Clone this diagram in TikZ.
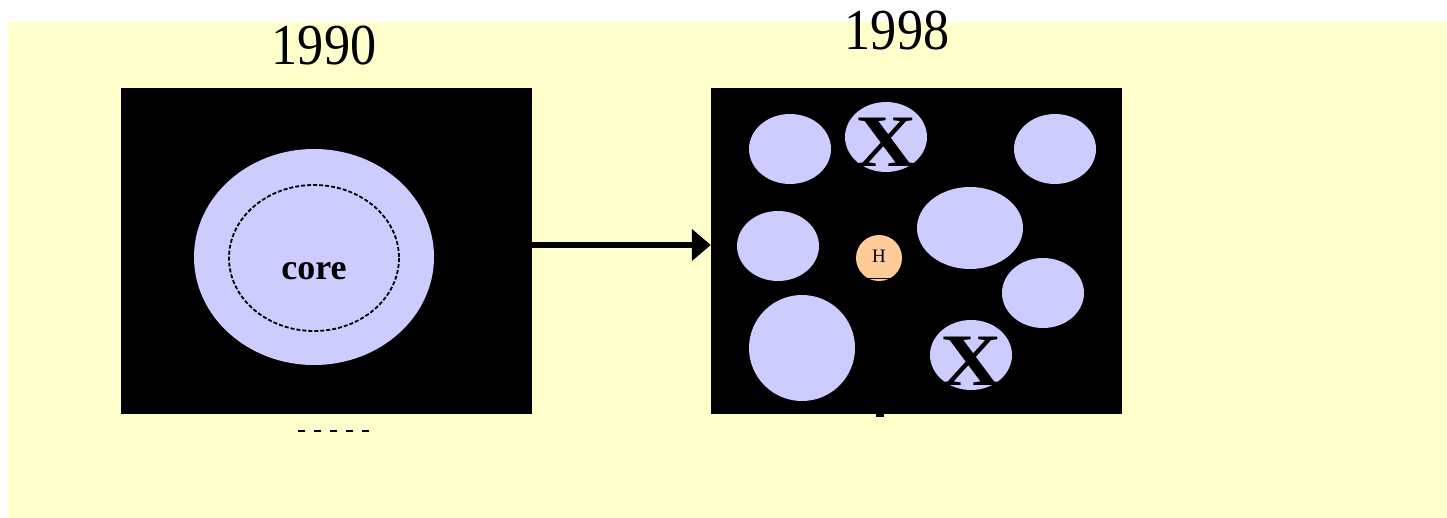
\documentclass[tikz,border=0pt]{standalone}
\usepackage{fontspec}
\setmainfont{Liberation Serif}
\usetikzlibrary{arrows.meta}
\definecolor{paper}{HTML}{FFFFCC}
\definecolor{cell}{HTML}{CCCCFF}
\definecolor{hub}{HTML}{FFCC99}
\tikzset{
  panel/.style={fill=black, draw=none, minimum width=411pt, minimum height=326pt, inner sep=0pt},
  year/.style={anchor=base, inner sep=0pt, font=\fontsize{58}{60}\selectfont},
  cross/.style={anchor=base, inner sep=0pt, font=\fontsize{74}{74}\selectfont\bfseries},
  flow/.style={line width=6pt, -{Triangle[length=19pt,width=31pt]}},
}
\begin{document}
\begin{tikzpicture}[x=1pt, y=-1pt]
  \useasboundingbox (0,0) rectangle (1447,518);
  \fill[white] (0,0) rectangle (1447,518);
  % pale yellow backdrop
  \fill[paper] (8,22) rectangle (1447,518);

  % year labels
  \node[year] (y1990) at (324,65) {\scalebox{0.9}[1]{1990}};
  \node[year] (y1998) at (897,50) {\scalebox{0.9}[1]{1998}};

  % 1990 panel: a single organisation with its core
  \node[panel] (lbox) at (326,251) {};
  \fill[cell] (314,257) ellipse [x radius=120, y radius=108];
  \draw[line width=1.8pt, dash pattern=on 4pt off 2pt] (314,258) ellipse [x radius=85, y radius=73];
  \node[anchor=base, inner sep=0pt, font=\fontsize{36}{36}\selectfont\bfseries] (core) at (314,280) {core};
  \draw[line width=2.6pt, dash pattern=on 7pt off 9pt] (298,431) -- (372,431);

  % 1998 panel: scattered units around a hub
  \node[panel] (rbox) at (916.5,251) {};
  \fill[cell] (790,149) ellipse [x radius=41, y radius=35];
  \fill[cell] (886,137) ellipse [x radius=41, y radius=35];
  \fill[cell] (1055,149) ellipse [x radius=41, y radius=35];
  \fill[cell] (778,246) ellipse [x radius=41, y radius=35];
  \fill[cell] (970,228) ellipse [x radius=53, y radius=41];
  \fill[cell] (1043,293) ellipse [x radius=41, y radius=35];
  \fill[cell] (802,348) ellipse [x radius=53, y radius=53];
  \fill[cell] (971,355) ellipse [x radius=41, y radius=35];
  \node[cross] (x1) at (886,167) {\scalebox{1.15}[1]{X}};
  \node[cross] (x2) at (971,385) {\scalebox{1.15}[1]{X}};

  \fill[hub] (879,258) circle [radius=23];
  \draw[line width=1pt] (863,279) -- (897,279);
  \node[anchor=base, inner sep=0pt, font=\fontsize{19}{19}\selectfont] (h) at (879,263) {H};
  \fill[black] (876,413) rectangle (884,417);

  % transition arrow
  \draw[flow] ([yshift=6pt]lbox.east) -- ([yshift=6pt]rbox.west);
\end{tikzpicture}
\end{document}
